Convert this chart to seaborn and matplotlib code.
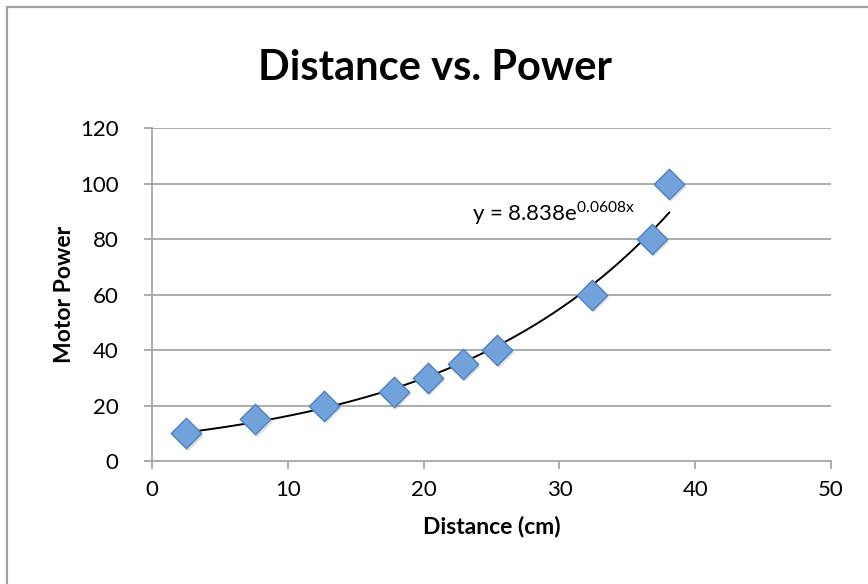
import matplotlib
matplotlib.use("Agg")
import matplotlib.pyplot as plt
import matplotlib.transforms as mtrans
import numpy as np
import pandas as pd
import seaborn as sns
from matplotlib.lines import Line2D

distance = [2.5, 7.6, 12.7, 17.8, 20.3, 22.9, 25.4, 32.4, 36.8, 38.1]
power = [10, 15, 20, 25, 30, 35, 40, 60, 80, 100]

# exponential trendline shown on the chart
fit_a = 8.838
fit_b = 0.0608

x_ticks = [0, 10, 20, 30, 40, 50]
y_ticks = [0, 20, 40, 60, 80, 100, 120]

GRID = "#A6A6A6"


def main() -> None:
    sns.set_theme(style="white")
    plt.rcParams["font.family"] = ["Lato", "DejaVu Sans"]
    plt.rcParams["text.color"] = "black"
    plt.rcParams["axes.labelcolor"] = "black"
    plt.rcParams["xtick.labelcolor"] = "black"
    plt.rcParams["ytick.labelcolor"] = "black"

    df = pd.DataFrame({"Distance (cm)": distance, "Motor Power": power})

    fig = plt.figure(figsize=(8.68, 5.84), dpi=100)
    ax = fig.add_axes([0.1751, 0.2106, 0.7823, 0.5702])

    for y in y_ticks[1:]:
        ax.axhline(y, color=GRID, lw=1.3, zorder=0)

    xs = np.linspace(min(distance), max(distance), 200)
    ax.plot(xs, fit_a * np.exp(fit_b * xs), color="black", lw=1.4, zorder=3)

    # soft drop shadow under markers
    sns.scatterplot(data=df, x="Distance (cm)", y="Motor Power", ax=ax,
                    marker="D", s=240, color="#7f7f7f", alpha=0.25,
                    edgecolor="none", zorder=2, legend=False)
    shadow = ax.collections[-1]
    shadow.set_transform(shadow.get_transform()
                         + mtrans.ScaledTranslation(1.5 / 72, -2 / 72, fig.dpi_scale_trans))

    sns.scatterplot(data=df, x="Distance (cm)", y="Motor Power", ax=ax,
                    marker="D", s=240, color="#72A2DB", edgecolor="#4F81BD",
                    linewidth=1.0, zorder=4, legend=False)

    ax.set_xlim(0, 50)
    ax.set_ylim(0, 120)
    ax.set_xticks(x_ticks)
    ax.set_yticks(y_ticks)
    ax.tick_params(axis="both", direction="out", length=6, width=1.3, color=GRID,
                   labelsize=16, labelcolor="black", left=True, bottom=True)
    ax.tick_params(axis="y", pad=18)
    ax.tick_params(axis="x", pad=8)
    for side in ["top", "right"]:
        ax.spines[side].set_visible(False)
    for side in ["left", "bottom"]:
        ax.spines[side].set_color(GRID)
        ax.spines[side].set_linewidth(1.3)

    ax.set_xlabel("Distance (cm)", fontsize=16.5, fontweight="bold", color="black")
    ax.set_ylabel("Motor Power", fontsize=16.5, fontweight="bold", color="black")
    ax.xaxis.set_label_coords(0.5, -0.165)
    ax.yaxis.set_label_coords(-0.113, 0.5)

    ax.text(23.6, 89.4, r"y = 8.838e$^{\mathregular{0.0608x}}$", fontsize=16,
            va="center", ha="left", color="black", zorder=5)

    fig.text(0.501, 0.884, "Distance vs. Power", fontsize=30, fontweight="bold",
             ha="center", va="center", color="black")

    # chart area border (top and left edges visible)
    fig.add_artist(Line2D([7 / 868, 7 / 868], [0, 1 - 7 / 584], transform=fig.transFigure,
                          color="#A0A0A0", lw=1.6))
    fig.add_artist(Line2D([7 / 868, 1], [1 - 7 / 584, 1 - 7 / 584], transform=fig.transFigure,
                          color="#A0A0A0", lw=1.6))

    fig.savefig("out.png", dpi=100)
    plt.close(fig)


if __name__ == "__main__":
    main()
